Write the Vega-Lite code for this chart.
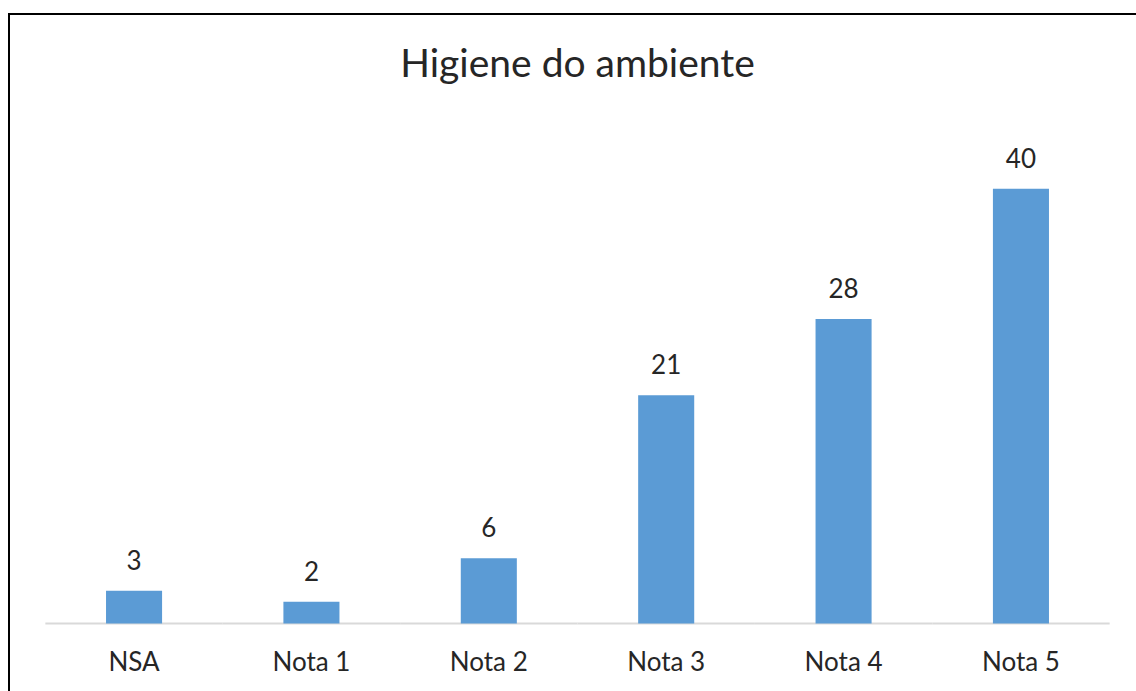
{
  "$schema": "https://vega.github.io/schema/vega-lite/v6.json",
  "autosize": {"type": "none"},
  "padding": {"left": 9, "top": 14, "right": 0, "bottom": 0},
  "width": 1137,
  "height": 686,
  "background": "white",
  "config": {"view": {"stroke": "#000000", "strokeWidth": 2}, "font": "Lato"},
  "title": {"text": "Higiene do ambiente", "fontSize": 39, "font": "Lato", "fontWeight": "normal", "color": "#262626", "anchor": "middle", "frame": "group", "baseline": "alphabetic", "offset": -102},
  "data": {"values": [
    {"categoria": "NSA", "valor": 3},
    {"categoria": "Nota 1", "valor": 2},
    {"categoria": "Nota 2", "valor": 6},
    {"categoria": "Nota 3", "valor": 21},
    {"categoria": "Nota 4", "valor": 28},
    {"categoria": "Nota 5", "valor": 40}
  ]},
  "encoding": {
    "x": {"field": "categoria", "type": "nominal", "sort": null,
      "scale": {"paddingInner": 0.684, "paddingOuter": 0.547},
      "axis": {"title": null, "domain": false, "ticks": false, "labelAngle": 0, "labelFont": "Lato", "labelFontSize": 26, "labelColor": "#262626", "labelBaseline": "alphabetic", "labelPadding": 46, "offset": -76}}
  },
  "layer": [
    {"mark": {"type": "tick", "orient": "horizontal", "size": 177.4, "thickness": 2, "color": "#d9d9d9", "opacity": 1},
     "encoding": {"y": {"datum": 0, "type": "quantitative", "scale": {"domain": [-7.04, 56.07], "nice": false, "zero": false}, "axis": null}}},
    {"mark": {"type": "bar", "color": "#5b9bd5"},
     "encoding": {"y": {"field": "valor", "type": "quantitative"}}},
    {"mark": {"type": "text", "baseline": "alphabetic", "dy": -21, "fontSize": 26, "font": "Lato", "color": "#262626"},
     "encoding": {"y": {"field": "valor", "type": "quantitative"}, "text": {"field": "valor", "type": "quantitative"}}}
  ]
}
